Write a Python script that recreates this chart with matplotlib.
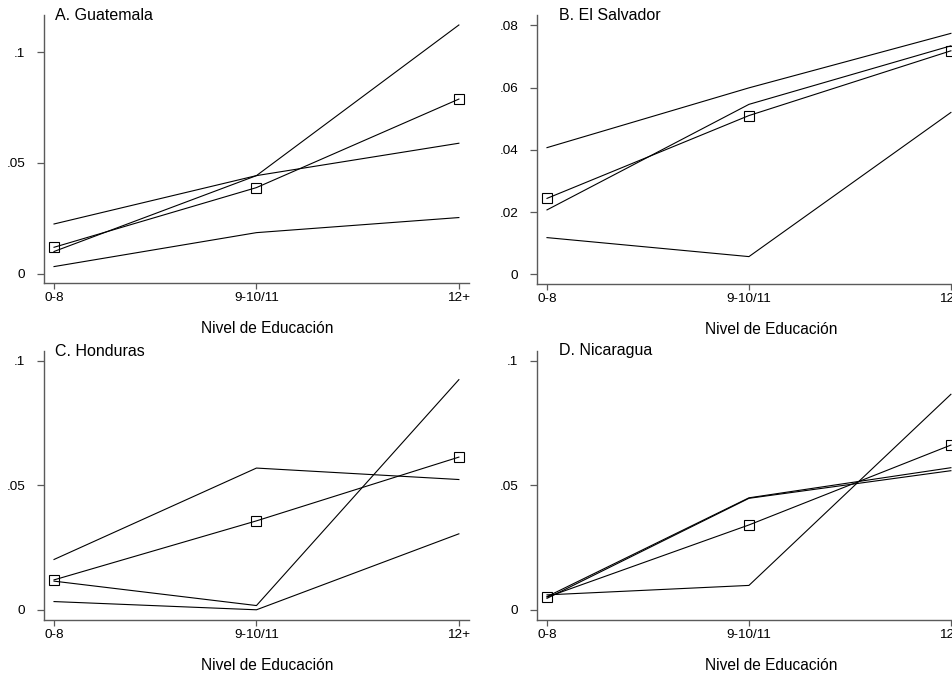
"""Four-country panel of rates by education level (Stata-style line plots)."""

import matplotlib

matplotlib.use("Agg")
import matplotlib.pyplot as plt

plt.rcParams["font.family"] = ["Liberation Sans", "DejaVu Sans"]

EDU_LEVELS = ["0-8", "9-10/11", "12+"]
X_LABEL = "Nivel de Educación"

# series per country: 3 plain lines + 1 line with hollow squares
GUATEMALA_LINES = [
    [0.0101, 0.0443, 0.1122],
    [0.0225, 0.0443, 0.0589],
    [0.0033, 0.0186, 0.0254],
]
GUATEMALA_MARKED = [0.0120, 0.0389, 0.0788]

SALVADOR_LINES = [
    [0.0407, 0.0599, 0.0774],
    [0.0207, 0.0546, 0.0734],
    [0.0118, 0.0057, 0.0520],
]
SALVADOR_MARKED = [0.0244, 0.0510, 0.0718]

HONDURAS_LINES = [
    [0.0115, 0.0017, 0.0924],
    [0.0202, 0.0569, 0.0523],
    [0.0033, 0.0000, 0.0305],
]
HONDURAS_MARKED = [0.0120, 0.0357, 0.0613]

NICARAGUA_LINES = [
    [0.0060, 0.0098, 0.0866],
    [0.0053, 0.0450, 0.0571],
    [0.0046, 0.0448, 0.0559],
]
NICARAGUA_MARKED = [0.0051, 0.0341, 0.0662]

PANELS = [
    # title, lines, marked, yticks, yticklabels, ylim, box px (left, right, top, bottom), title x, label x
    ("A. Guatemala", GUATEMALA_LINES, GUATEMALA_MARKED,
     [0, 0.05, 0.1], ["0", ".05", ".1"], (-0.0041, 0.1167), (44, 469, 15, 283), 0.026, 0.526),
    ("B. El Salvador", SALVADOR_LINES, SALVADOR_MARKED,
     [0, 0.02, 0.04, 0.06, 0.08], ["0", ".02", ".04", ".06", ".08"], (-0.0031, 0.0833),
     (537, 961, 15, 284), 0.051, 0.552),
    ("C. Honduras", HONDURAS_LINES, HONDURAS_MARKED,
     [0, 0.05, 0.1], ["0", ".05", ".1"], (-0.0041, 0.1039), (44, 469, 351, 620), 0.026, 0.526),
    ("D. Nicaragua", NICARAGUA_LINES, NICARAGUA_MARKED,
     [0, 0.05, 0.1], ["0", ".05", ".1"], (-0.0041, 0.104), (537, 961, 351, 620), 0.051, 0.552),
]

FIG_W, FIG_H = 952, 677
SPINE_COLOR = "#5a5a5a"


def _draw_panel(fig, title, lines, marked, yticks, yticklabels, ylim, box, title_x, label_x):
    left, right, top, bottom = box
    ax = fig.add_axes([left / FIG_W, 1 - bottom / FIG_H, (right - left) / FIG_W, (bottom - top) / FIG_H])
    xs = list(range(len(EDU_LEVELS)))

    for values in lines:
        ax.plot(xs, values, color="black", linewidth=0.8, clip_on=False)
    ax.plot(xs, marked, color="black", linewidth=0.8, marker="s", markersize=7.7,
            markerfacecolor="none", markeredgecolor="black", markeredgewidth=0.8, clip_on=False)

    ax.set_xlim(-0.0495, 2.05)
    ax.set_ylim(*ylim)
    ax.set_xticks(xs)
    ax.set_xticklabels(EDU_LEVELS)
    ax.set_yticks(yticks)
    ax.set_yticklabels(yticklabels)

    for side in ("top", "right"):
        ax.spines[side].set_visible(False)
    for side in ("left", "bottom"):
        ax.spines[side].set_color(SPINE_COLOR)
        ax.spines[side].set_linewidth(1.0)
    ax.tick_params(axis="both", width=0.9, color=SPINE_COLOR, labelsize=9.7)
    ax.tick_params(axis="x", length=4.5, pad=2)
    ax.tick_params(axis="y", length=5, pad=8.5)

    ax.text(title_x, 1.0, title, transform=ax.transAxes, fontsize=11.5, va="center", ha="left")
    ax.set_xlabel(X_LABEL, fontsize=11.2, va="center")
    ax.xaxis.set_label_coords(label_x, -0.168)
    return ax


def main() -> None:
    fig = plt.figure(figsize=(FIG_W / 100, FIG_H / 100), dpi=100)
    fig.patch.set_facecolor("white")
    for panel in PANELS:
        _draw_panel(fig, *panel)
    fig.savefig("out.png", dpi=100)
    plt.close(fig)


if __name__ == "__main__":
    main()
